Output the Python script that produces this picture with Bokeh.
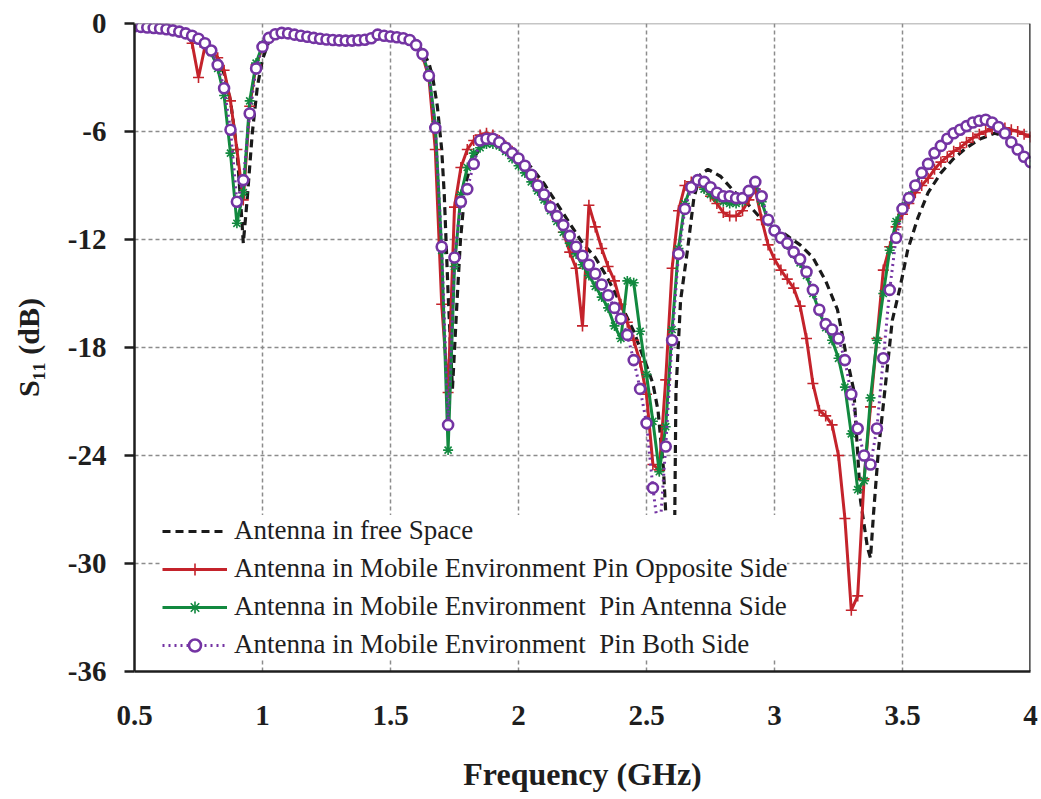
from bokeh.plotting import figure
from bokeh.models import (Range1d, FixedTicker, CustomJSTickFormatter, Legend,
                          LegendItem, Span)
from bokeh.embed import file_html
from bokeh.resources import INLINE

# ---------------------------------------------------------------- data
# Sweep points (GHz) shared by the three measured mobile-environment traces
freq_ghz = [
    0.500, 0.525, 0.550, 0.575, 0.600, 0.625, 0.650, 0.675, 0.700, 0.725,
    0.750, 0.775, 0.800, 0.825, 0.850, 0.875, 0.900, 0.925, 0.950, 0.975,
    1.000, 1.025, 1.050, 1.075, 1.100, 1.125, 1.150, 1.175, 1.200, 1.225,
    1.250, 1.275, 1.300, 1.325, 1.350, 1.375, 1.400, 1.425, 1.450, 1.475,
    1.500, 1.525, 1.550, 1.575, 1.600, 1.625, 1.650, 1.675, 1.700, 1.725,
    1.750, 1.775, 1.800, 1.825, 1.850, 1.875, 1.900, 1.925, 1.950, 1.975,
    2.000, 2.025, 2.050, 2.075, 2.100, 2.125, 2.150, 2.175, 2.200, 2.225,
    2.250, 2.275, 2.300, 2.325, 2.350, 2.375, 2.400, 2.425, 2.450, 2.475,
    2.500, 2.525, 2.550, 2.575, 2.600, 2.625, 2.650, 2.675, 2.700, 2.725,
    2.750, 2.775, 2.800, 2.825, 2.850, 2.875, 2.900, 2.925, 2.950, 2.975,
    3.000, 3.025, 3.050, 3.075, 3.100, 3.125, 3.150, 3.175, 3.200, 3.225,
    3.250, 3.275, 3.300, 3.325, 3.350, 3.375, 3.400, 3.425, 3.450, 3.475,
    3.500, 3.525, 3.550, 3.575, 3.600, 3.625, 3.650, 3.675, 3.700, 3.725,
    3.750, 3.775, 3.800, 3.825, 3.850, 3.875, 3.900, 3.925, 3.950, 3.975,
    4.000,
]

# S11 (dB), pin on the opposite side
s11_opposite = [
    -0.15, -0.19, -0.22, -0.25, -0.28, -0.32, -0.38, -0.45, -0.55, -1.1,
    -3.0, -1.3, -1.5, -1.9, -2.6, -4.3, -7.0, -9.8, -4.6, -2.3,
    -1.3, -0.8, -0.6, -0.52, -0.55, -0.62, -0.68, -0.74, -0.8, -0.85,
    -0.89, -0.92, -0.94, -0.95, -0.95, -0.93, -0.9, -0.82, -0.62, -0.68,
    -0.72, -0.76, -0.82, -0.92, -1.2, -1.8, -3.0, -7.0, -15.6, -20.5,
    -10.2, -8.0, -7.0, -6.5, -6.2, -6.1, -6.2, -6.5, -6.8, -7.1,
    -7.5, -7.9, -8.4, -8.9, -9.5, -10.1, -10.7, -11.6, -12.7, -13.6,
    -16.8, -10.1, -11.3, -12.5, -13.5, -14.3, -15.6, -16.6, -17.6, -18.8,
    -20.6, -24.5, -24.8, -19.8, -13.6, -10.4, -9.0, -8.8, -8.7, -9.1,
    -9.6, -10.0, -10.5, -10.7, -10.7, -10.4, -9.8, -9.2, -10.9, -12.3,
    -13.1, -13.7, -14.2, -14.7, -15.7, -17.5, -20.0, -21.5, -21.8, -22.3,
    -24.0, -27.5, -32.6, -31.8, -25.3, -21.3, -17.5, -13.7, -12.4, -11.3,
    -10.6, -10.0, -9.4, -9.0, -8.6, -8.1, -7.7, -7.4, -7.1, -6.9,
    -6.6, -6.35, -6.15, -6.0, -5.85, -5.8, -5.8, -5.9, -6.0, -6.15,
    -6.3,
]

# S11 (dB), pin on the antenna side
s11_antenna = [
    -0.15, -0.19, -0.22, -0.25, -0.28, -0.32, -0.38, -0.45, -0.55, -0.68,
    -0.85, -1.1, -1.6, -2.5, -4.0, -7.2, -11.1, -9.4, -4.3, -2.2,
    -1.2, -0.75, -0.6, -0.52, -0.55, -0.62, -0.68, -0.74, -0.8, -0.85,
    -0.89, -0.92, -0.94, -0.95, -0.95, -0.93, -0.9, -0.82, -0.62, -0.68,
    -0.72, -0.76, -0.82, -0.92, -1.2, -1.7, -2.8, -5.6, -12.6, -23.7,
    -13.5, -9.5, -8.0, -7.2, -6.9, -6.7, -6.7, -6.8, -7.1, -7.5,
    -7.9, -8.3, -8.8, -9.3, -9.8, -10.4, -11.0, -11.6, -12.2, -12.8,
    -13.4, -14.0, -14.6, -15.2, -15.8, -16.8, -17.5, -14.3, -14.4, -17.1,
    -19.5, -22.1, -24.9, -22.4, -17.0, -12.5, -10.0, -9.0, -8.8, -9.2,
    -9.5, -9.7, -9.9, -10.0, -10.0, -9.9, -9.3, -8.8, -9.9, -11.0,
    -11.5, -11.9, -12.3, -12.8, -13.3, -14.0, -15.0, -16.0, -16.9, -17.6,
    -18.6, -20.2, -22.8, -25.9, -25.4, -20.8, -17.6, -15.0, -12.6, -11.0,
    -10.2, -9.6, -9.0, -8.3, -7.8, -7.2, -6.8, -6.4, -6.1, -5.9,
    -5.7, -5.5, -5.4, -5.35, -5.5, -5.75, -6.1, -6.6, -7.0, -7.4,
    -7.7,
]

# S11 (dB), pins on both sides
s11_both = [
    -0.15, -0.19, -0.22, -0.25, -0.28, -0.32, -0.38, -0.45, -0.55, -0.68,
    -0.85, -1.1, -1.5, -2.3, -3.6, -5.9, -9.9, -8.7, -5.0, -2.5,
    -1.3, -0.8, -0.6, -0.52, -0.55, -0.62, -0.68, -0.74, -0.8, -0.85,
    -0.89, -0.92, -0.94, -0.95, -0.95, -0.93, -0.9, -0.82, -0.62, -0.68,
    -0.72, -0.76, -0.82, -0.92, -1.2, -1.7, -2.9, -5.8, -12.4, -22.3,
    -13.0, -9.9, -9.2, -7.8, -6.5, -6.4, -6.4, -6.6, -6.9, -7.2,
    -7.5, -7.9, -8.4, -9.0, -9.5, -10.2, -10.7, -11.2, -11.8, -12.4,
    -12.9, -13.4, -13.9, -14.5, -15.1, -15.8, -16.4, -17.3, -18.7, -20.3,
    -22.2, -25.8, -28.6, -23.5, -17.6, -12.8, -10.3, -9.1, -8.7, -8.8,
    -9.1, -9.4, -9.6, -9.6, -9.7, -9.7, -9.3, -8.8, -9.6, -10.9,
    -11.5, -11.9, -12.2, -12.7, -13.1, -13.8, -14.8, -15.9, -16.7, -17.0,
    -17.5, -18.7, -20.6, -22.5, -24.0, -24.5, -22.5, -18.6, -14.8, -11.9,
    -10.3, -9.7, -9.0, -8.3, -7.8, -7.2, -6.8, -6.4, -6.1, -5.9,
    -5.7, -5.5, -5.4, -5.35, -5.5, -5.75, -6.1, -6.6, -7.0, -7.4,
    -7.7,
]

# Simulated antenna in free space (own frequency points)
freq_free = [
    0.50, 0.55, 0.60, 0.65, 0.70, 0.75, 0.80, 0.825, 0.85, 0.875,
    0.90, 0.915, 0.925, 0.94, 0.96, 0.98, 1.00, 1.025, 1.05, 1.075,
    1.10, 1.15, 1.20, 1.25, 1.30, 1.35, 1.40, 1.45, 1.50, 1.55,
    1.60, 1.625, 1.65, 1.665, 1.683, 1.70, 1.71, 1.725, 1.742, 1.76,
    1.773, 1.793, 1.82, 1.85, 1.89, 1.94, 2.00, 2.05, 2.10, 2.15,
    2.20, 2.25, 2.30, 2.35, 2.40, 2.45, 2.50, 2.525, 2.545, 2.566,
    2.58, 2.595, 2.61, 2.615, 2.633, 2.66, 2.685, 2.71, 2.74, 2.79,
    2.84, 2.894, 2.945, 3.00, 3.05, 3.10, 3.15, 3.20, 3.246, 3.277,
    3.31, 3.336, 3.363, 3.375, 3.387, 3.406, 3.434, 3.46, 3.49, 3.52,
    3.56, 3.60, 3.65, 3.70, 3.75, 3.805, 3.86, 3.91, 3.95, 3.99,
    4.00,
]
s11_free = [
    -0.15, -0.2, -0.27, -0.37, -0.55, -0.85, -1.4, -1.9, -2.8, -4.3,
    -7.0, -10.0, -12.2, -9.8, -6.1, -3.5, -2.0, -1.0, -0.65, -0.55,
    -0.58, -0.68, -0.8, -0.89, -0.94, -0.95, -0.9, -0.7, -0.72, -0.8,
    -1.1, -1.5, -2.2, -3.0, -4.6, -7.0, -9.5, -15.0, -20.3, -15.4,
    -12.1, -8.9, -7.6, -6.9, -6.5, -6.8, -7.3, -8.0, -8.9, -10.0,
    -11.1, -12.2, -13.0, -14.2, -15.6, -17.1, -19.0, -20.0, -21.5, -24.7,
    -28.5, -31.0, -28.0, -20.5, -15.4, -12.6, -9.7, -8.4, -8.1, -8.5,
    -9.3, -10.0, -10.8, -11.3, -11.8, -12.3, -13.0, -14.3, -15.9, -18.2,
    -20.4, -26.5, -29.1, -29.7, -27.2, -23.7, -20.0, -16.5, -14.7, -12.6,
    -10.8, -9.4, -8.3, -7.5, -6.9, -6.4, -6.1, -6.3, -6.8, -7.5,
    -7.6,
]

x_ticks = [0.5, 1.0, 1.5, 2.0, 2.5, 3.0, 3.5, 4.0]
y_ticks = [-36, -30, -24, -18, -12, -6, 0]

series_labels = [
    "Antenna in free Space",
    "Antenna in Mobile Environment Pin Opposite Side",
    "Antenna in Mobile Environment  Pin Antenna Side",
    "Antenna in Mobile Environment  Pin Both Side",
]

# ---------------------------------------------------------------- styling
SERIF = "Liberation Serif"
INK = "#1e1e1e"
GRID = "#8c8c8c"
BLACK = "#1a1a1a"
RED = "#c4232b"
GREEN = "#12893f"
PURPLE = "#7434a3"

p = figure(width=1041, height=799, output_backend="svg", toolbar_location=None,
           x_range=Range1d(0.5, 4.0), y_range=Range1d(-36, 0),
           min_border_left=134, min_border_right=11,
           min_border_top=23, min_border_bottom=128)
p.outline_line_color = None
p.background_fill_color = "white"
p.border_fill_color = "white"

xa = p.xaxis[0]
xa.ticker = FixedTicker(ticks=x_ticks)
xa.formatter = CustomJSTickFormatter(code="return tick.toString()")
xa.major_tick_out = 0
xa.major_tick_in = 0
xa.minor_tick_out = 0
xa.minor_tick_in = 0
xa.axis_line_color = INK
xa.axis_line_width = 2.5
xa.major_label_standoff = 34
xa.major_label_text_font = SERIF
xa.major_label_text_font_style = "bold"
xa.major_label_text_font_size = "29px"
xa.major_label_text_color = INK
xa.axis_label = "Frequency (GHz)"
xa.axis_label_standoff = 28
xa.axis_label_text_font = SERIF
xa.axis_label_text_font_style = "bold"
xa.axis_label_text_font_size = "32px"
xa.axis_label_text_color = INK

ya = p.yaxis[0]
ya.ticker = FixedTicker(ticks=y_ticks)
ya.formatter = CustomJSTickFormatter(code="return tick.toString()")
ya.major_tick_out = 10
ya.major_tick_in = 0
ya.minor_tick_out = 0
ya.minor_tick_in = 0
ya.major_tick_line_color = INK
ya.major_tick_line_width = 2.5
ya.axis_line_color = INK
ya.axis_line_width = 2.5
ya.major_label_standoff = 18
ya.major_label_text_font = SERIF
ya.major_label_text_font_style = "bold"
ya.major_label_text_font_size = "29px"
ya.major_label_text_color = INK
ya.axis_label = "S\u2081\u2081 (dB)"
ya.axis_label_standoff = 20
ya.axis_label_text_font = SERIF
ya.axis_label_text_font_style = "bold"
ya.axis_label_text_font_size = "30px"
ya.axis_label_text_color = INK

for g, ticks in ((p.xgrid[0], x_ticks), (p.ygrid[0], y_ticks)):
    g.ticker = FixedTicker(ticks=ticks)
    g.grid_line_color = GRID
    g.grid_line_width = 1.5
    g.grid_line_dash = "4 3"

# frame edges: grey top rule and black right rule
p.add_layout(Span(location=0, dimension="width", line_color=GRID, line_width=1.5))
p.add_layout(Span(location=4.0, dimension="height", line_color=INK, line_width=2.5))

# ---------------------------------------------------------------- traces
r_free = p.line(freq_free, s11_free, line_color=BLACK, line_width=3.2,
                line_dash="8 5")

r_opp_l = p.line(freq_ghz, s11_opposite, line_color=RED, line_width=3)
r_opp_m = p.scatter(freq_ghz, s11_opposite, marker="cross", size=11,
                    line_color=RED, line_width=1.6)

r_ant_l = p.line(freq_ghz, s11_antenna, line_color=GREEN, line_width=3)
r_ant_m = p.scatter(freq_ghz, s11_antenna, marker="asterisk", size=10,
                    line_color=GREEN, line_width=1.6)

r_both_l = p.line(freq_ghz, s11_both, line_color=PURPLE, line_width=3,
                  line_dash="2 4")
r_both_m = p.scatter(freq_ghz, s11_both, marker="circle", size=10,
                     line_color=PURPLE, line_width=2.6, fill_color="white")

legend = Legend(
    items=[
        LegendItem(label=series_labels[0], renderers=[r_free]),
        LegendItem(label=series_labels[1], renderers=[r_opp_l, r_opp_m]),
        LegendItem(label=series_labels[2], renderers=[r_ant_l, r_ant_m]),
        LegendItem(label=series_labels[3], renderers=[r_both_l, r_both_m]),
    ],
    location=(28, 11),
    background_fill_color="white", background_fill_alpha=1.0,
    border_line_color=None,
    padding=6, spacing=7, margin=0,
    glyph_width=65, glyph_height=30, label_height=30, label_standoff=7,
    label_text_font=SERIF, label_text_font_size="27px", label_text_color=INK,
)
p.add_layout(legend)

open("out.html", "w").write(file_html(p, INLINE))
